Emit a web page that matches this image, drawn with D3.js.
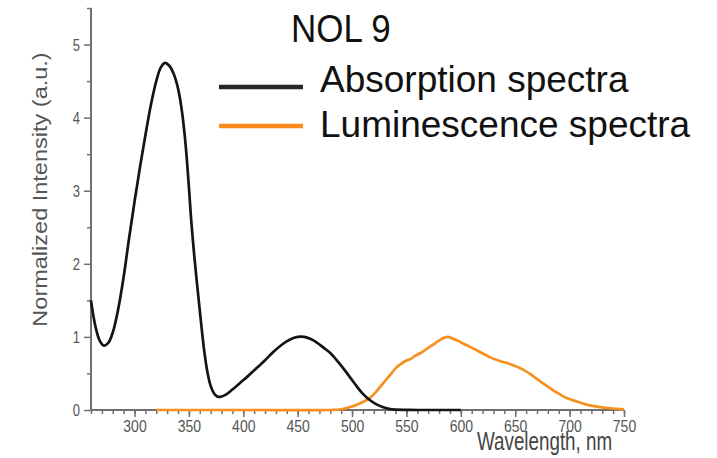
<!DOCTYPE html>
<html>
<head>
<meta charset="utf-8">
<script src="https://cdn.jsdelivr.net/npm/d3@7"></script>
<style>
  html, body { margin: 0; padding: 0; background: #fff; }
  svg { display: block; font-family: "Liberation Sans", Arial, sans-serif; }
</style>
</head>
<body>
<svg id="chart" width="717" height="458"></svg>
<script>
// ---- Data ----
const title = "NOL 9";
const seriesNames = ["Absorption spectra", "Luminescence spectra"];
const seriesColors = ["#141414", "#f7901e"];

const absWavelength = [260,264,268,272,276,280,285,290,295,300,305,310,315,320,324,328,332,336,340,343,346,348,350,352,355,358,361,364,367,370,373,376,379,384,390,397,404,412,420,428,436,443,450,456,462,468,474,480,486,492,498,504,510,516,522,528,534,540,550,560,580,600];
const absIntensity  = [1.50,1.15,0.95,0.88,0.92,1.06,1.38,1.82,2.35,2.85,3.32,3.76,4.17,4.50,4.68,4.75,4.71,4.60,4.40,4.15,3.78,3.45,3.05,2.62,2.10,1.65,1.22,0.82,0.52,0.33,0.23,0.185,0.18,0.21,0.28,0.37,0.46,0.57,0.68,0.80,0.90,0.965,1.00,1.00,0.97,0.92,0.85,0.78,0.68,0.57,0.45,0.33,0.22,0.14,0.08,0.04,0.015,0.005,0.002,0,0,0];

const lumWavelength = [320,400,480,490,498,504,510,516,521,526,531,535,540,544,549,554,558,563,568,572,577,581,585,588,592,597,602,609,618,627,636,645,652,658,664,670,676,682,688,695,701,708,714,720,728,737,744,750];
const lumIntensity  = [0,0,0,0.01,0.04,0.07,0.11,0.16,0.23,0.32,0.41,0.48,0.57,0.62,0.67,0.70,0.74,0.78,0.83,0.87,0.92,0.96,0.99,1.00,0.98,0.95,0.91,0.86,0.79,0.72,0.67,0.63,0.59,0.545,0.49,0.425,0.36,0.30,0.24,0.18,0.145,0.11,0.08,0.06,0.04,0.025,0.015,0.01];

const xMajorTicks = [300,350,400,450,500,550,600,650,700,750];
const xMinorTicks = d3.range(260, 751, 10);
const yMajorTicks = [0,1,2,3,4,5];
const yMinorTicks = [0.5,1.5,2.5,3.5,4.5,5.5];
const xTitle = "Wavelength, nm";
const yTitle = "Normalized Intensity (a.u.)";

// ---- Layout ----
const svg = d3.select("#chart");
svg.append("rect").attr("width", 717).attr("height", 458).attr("fill", "#fff");

const x = d3.scaleLinear().domain([260, 750]).range([91, 624]);
const y = d3.scaleLinear().domain([0, 5.5]).range([410, 8]);
const axisColor = "#707070";
const labelColor = "#555";

// X minor ticks
const gxMinor = svg.append("g").attr("transform", `translate(0,${y(0)})`)
  .call(d3.axisBottom(x).tickValues(xMinorTicks).tickSize(4).tickSizeOuter(0).tickFormat(""));
gxMinor.select(".domain").remove();
gxMinor.selectAll("line").attr("stroke", axisColor).attr("stroke-width", 1.5);

// X major ticks
const gx = svg.append("g").attr("transform", `translate(0,${y(0)})`)
  .call(d3.axisBottom(x).tickValues(xMajorTicks).tickSize(7).tickSizeOuter(0).tickFormat(d3.format("d")));
gx.select(".domain").remove();
gx.selectAll("line").attr("stroke", axisColor).attr("stroke-width", 1.5);
gx.selectAll("text")
  .attr("y", null).attr("dy", null)
  .attr("transform", "translate(0,21.5) scale(1,1.2)")
  .attr("fill", labelColor).attr("font-size", 14)
  .attr("font-family", "Liberation Sans, Arial, sans-serif");

// Y minor ticks
const gyMinor = svg.append("g").attr("transform", `translate(${x(260)},0)`)
  .call(d3.axisLeft(y).tickValues(yMinorTicks).tickSize(4).tickSizeOuter(0).tickFormat(""));
gyMinor.select(".domain").remove();
gyMinor.selectAll("line").attr("stroke", axisColor).attr("stroke-width", 1.5);

// Y major ticks
const gy = svg.append("g").attr("transform", `translate(${x(260)},0)`)
  .call(d3.axisLeft(y).tickValues(yMajorTicks).tickSize(7).tickSizeOuter(0).tickFormat(d3.format("d")));
gy.select(".domain").remove();
gy.selectAll("line").attr("stroke", axisColor).attr("stroke-width", 1.5);
gy.selectAll("text")
  .attr("x", null).attr("dy", null)
  .attr("transform", "translate(-11,5.7) scale(1,1.25)")
  .attr("fill", labelColor).attr("font-size", 13)
  .attr("font-family", "Liberation Sans, Arial, sans-serif");

// Axis lines
svg.append("line").attr("x1", x(260)).attr("x2", x(750)).attr("y1", y(0)).attr("y2", y(0))
  .attr("stroke", axisColor).attr("stroke-width", 2);
svg.append("line").attr("x1", x(260)).attr("x2", x(260)).attr("y1", y(0) + 1).attr("y2", y(5.5))
  .attr("stroke", axisColor).attr("stroke-width", 2);

// Curves
const line = d3.line().x(d => x(d[0])).y(d => y(d[1])).curve(d3.curveCatmullRom.alpha(0.5));
const absData = absWavelength.map((w, i) => [w, absIntensity[i]]);
const lumData = lumWavelength.map((w, i) => [w, lumIntensity[i]]);

svg.append("path").datum(lumData).attr("d", line)
  .attr("fill", "none").attr("stroke", seriesColors[1]).attr("stroke-width", 2.7).attr("stroke-linejoin", "round");
svg.append("path").datum(absData).attr("d", line)
  .attr("fill", "none").attr("stroke", seriesColors[0]).attr("stroke-width", 2.7).attr("stroke-linejoin", "round");

// Axis titles
svg.append("text").text(xTitle)
  .attr("transform", "translate(477,450) scale(1,1.35)")
  .attr("font-size", 18.8).attr("fill", "#454545");
svg.append("text").text(yTitle)
  .attr("transform", "translate(47,189.5) rotate(-90) scale(1.12,1)")
  .attr("text-anchor", "middle")
  .attr("font-size", 21).attr("fill", labelColor);

// Title
svg.append("text").text(title)
  .attr("transform", "translate(291,41.5) scale(1,1.1)")
  .attr("font-size", 35).attr("fill", "#111");

// Legend
const legendY = [87, 126];
const legendBase = [91.5, 137];
seriesNames.forEach((name, i) => {
  svg.append("line").attr("x1", 219).attr("x2", 303).attr("y1", legendY[i]).attr("y2", legendY[i])
    .attr("stroke", i === 0 ? "#262626" : "#fb8c1c").attr("stroke-width", 4.5);
  svg.append("text").text(name).attr("x", 320).attr("y", legendBase[i])
    .attr("font-size", 37).attr("fill", "#111");
});
</script>
</body>
</html>
